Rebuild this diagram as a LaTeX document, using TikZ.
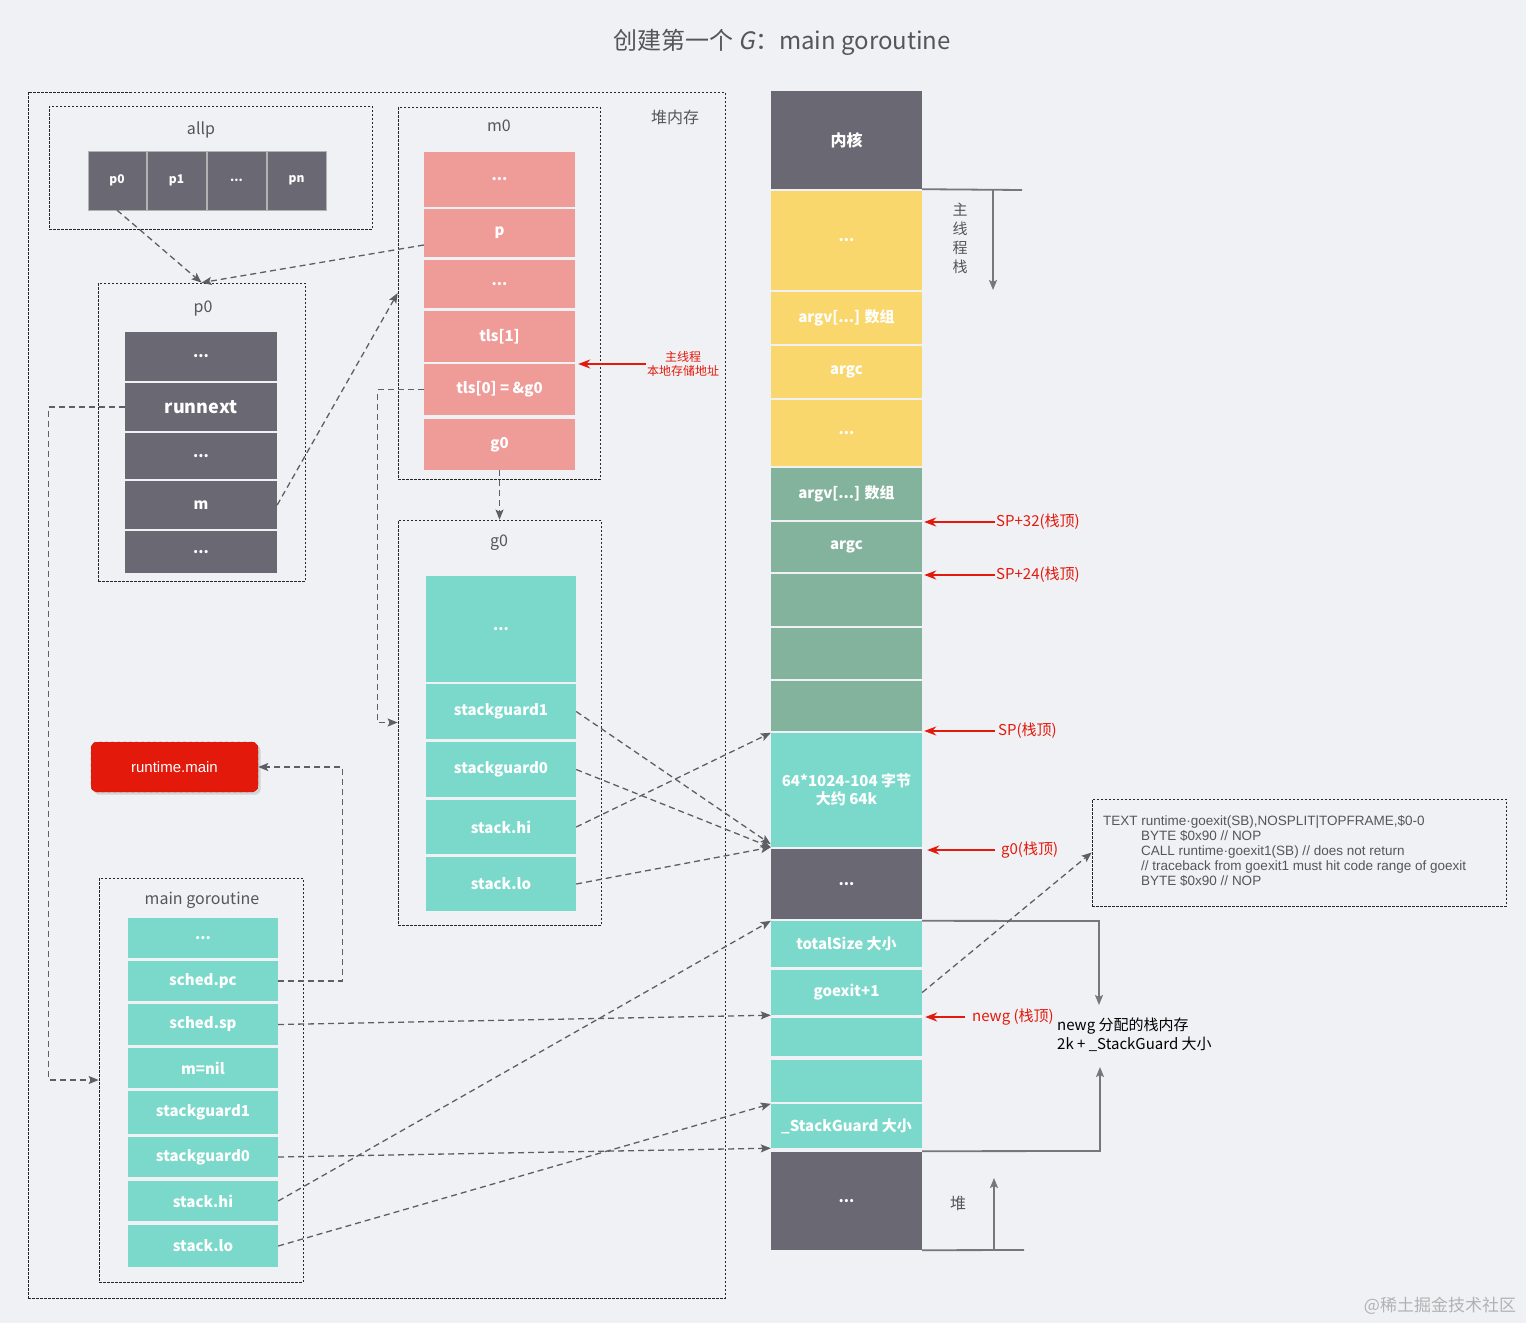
\documentclass[tikz,border=0pt]{standalone}
\usepackage{fontspec}
\setmainfont{Noto Sans CJK SC}
\newfontfamily\arialfont{Liberation Sans}
\newfontfamily\slfont{Noto Sans CJK SC}[FakeSlant=0.2]
\usetikzlibrary{arrows.meta,positioning,shadows}
\definecolor{bgc}{HTML}{F0F1F4}
\definecolor{dkc}{HTML}{6A6873}
\definecolor{pkc}{HTML}{EF9B98}
\definecolor{tlc}{HTML}{7AD9CB}
\definecolor{ylc}{HTML}{F9D76C}
\definecolor{gnc}{HTML}{83B39D}
\definecolor{rdc}{HTML}{E3190C}
\definecolor{lnc}{HTML}{5E5E66}
\definecolor{txc}{HTML}{55555C}

\begin{document}
\begin{tikzpicture}[x=1pt, y=-1pt, >={Stealth[length=10pt,width=8pt,inset=2pt]},
    frame/.style={draw=black!85, dash pattern=on 2.5pt off 1.5pt, line width=0.7pt, inner sep=0pt},
    lbl/.style={text=txc, font=\fontsize{16}{19}\selectfont},
    cell/.style={inner sep=0pt, minimum width=151pt, text=white, align=center, font=\bfseries\fontsize{15}{18}\selectfont},
    dk/.style={cell, fill=dkc}, pk/.style={cell, fill=pkc}, tl/.style={cell, fill=tlc},
    yl/.style={cell, fill=ylc}, gn/.style={cell, fill=gnc},
    link/.style={draw=lnc, line width=1.3pt, dash pattern=on 6pt off 4pt, ->},
    redarr/.style={draw=rdc, line width=1.6pt, -{Stealth[length=12pt,width=9pt]}},
    redlbl/.style={text=rdc, inner sep=1pt, font=\fontsize{15}{18}\selectfont},
    gline/.style={draw=lnc!85, line width=1.8pt}]

\fill[bgc] (0,0) rectangle (1526,1323);

\node[lbl, font=\fontsize{24}{28}\selectfont] (title) at (782,42) {创建第一个 {\slfont G}：main goroutine};

\node[frame, minimum width=697pt, minimum height=1206pt] (heap) at (376.5,695) {};
\node[lbl] (heaplbl) at (675,117) {堆内存};

\node[frame, minimum width=323pt, minimum height=123pt] (allpbox) at (210.5,167.5) {};
\node[lbl] (allplbl) at (201,130) {allp};
\node[dk, draw=gray!60, minimum width=58pt, minimum height=59pt, font=\bfseries\fontsize{12}{14}\selectfont] (ap0) at (117,180.5) {p0};
\node[dk, draw=gray!60, minimum width=59pt, minimum height=59pt, font=\bfseries\fontsize{12}{14}\selectfont] (ap1) at (176.5,180.5) {p1};
\node[dk, draw=gray!60, minimum width=59pt, minimum height=59pt, font=\bfseries\fontsize{12}{14}\selectfont] (apx) at (236.5,180.5) {...};
\node[dk, draw=gray!60, minimum width=59pt, minimum height=59pt, font=\bfseries\fontsize{12}{14}\selectfont] (apn) at (296.5,180.5) {pn};

\node[frame, minimum width=207pt, minimum height=298pt] (p0box) at (201.5,432) {};
\node[lbl] (p0lbl) at (203,309) {p0};
\node[dk, minimum width=152pt, minimum height=49pt] (pd1) at (201,356.5) {...};
\node[dk, minimum width=152pt, minimum height=48pt, font=\bfseries\fontsize{18}{21}\selectfont] (prn) at (201,407) {runnext};
\node[dk, minimum width=152pt, minimum height=46pt] (pd2) at (201,456) {...};
\node[dk, minimum width=152pt, minimum height=48pt] (pm) at (201,505) {m};
\node[dk, minimum width=152pt, minimum height=42pt] (pd3) at (201,552) {...};

\node[frame, minimum width=202pt, minimum height=372pt] (m0box) at (499,293) {};
\node[lbl] (m0lbl) at (499,126) {m0};
\node[pk, minimum height=55pt] (md1) at (499.5,179.5) {...};
\node[pk, minimum height=48pt] (mp) at (499.5,233) {p};
\node[pk, minimum height=48pt] (md2) at (499.5,284) {...};
\node[pk, minimum height=51pt] (mt1) at (499.5,336.5) {tls[1]};
\node[pk, minimum height=51pt] (mt0) at (499.5,389.5) {tls[0] = \&g0};
\node[pk, minimum height=51pt] (mg0) at (499.5,444.5) {g0};

\node[frame, minimum width=203pt, minimum height=405pt] (g0box) at (499.5,722.5) {};
\node[lbl] (g0lbl) at (499,543) {g0};
\node[tl, minimum width=150pt, minimum height=106pt] (gd1) at (501,629) {...};
\node[tl, minimum width=150pt, minimum height=55pt] (gsg1) at (501,711.5) {stackguard1};
\node[tl, minimum width=150pt, minimum height=55pt] (gsg0) at (501,769.5) {stackguard0};
\node[tl, minimum width=150pt, minimum height=54pt] (ghi) at (501,827) {stack.hi};
\node[tl, minimum width=150pt, minimum height=54pt] (glo) at (501,884) {stack.lo};

\node[fill=rdc, draw=rdc!75!black, dashed, rounded corners=6pt, minimum width=167pt, minimum height=50pt,
      text=white, font=\arialfont\fontsize{15}{18}\selectfont, drop shadow={opacity=0.25}] (rtmain) at (174.5,767) {runtime.main};

\node[frame, minimum width=204pt, minimum height=404pt] (mainbox) at (201,1080) {};
\node[lbl] (mainlbl) at (202,900) {main goroutine};
\node[tl, minimum width=150pt, minimum height=40pt] (md) at (203,938) {...};
\node[tl, minimum width=150pt, minimum height=40pt] (mpc) at (203,981) {sched.pc};
\node[tl, minimum width=150pt, minimum height=41pt] (msp) at (203,1024.5) {sched.sp};
\node[tl, minimum width=150pt, minimum height=40pt] (mnil) at (203,1068) {m=nil};
\node[tl, minimum width=150pt, minimum height=43pt] (msg1) at (203,1112.5) {stackguard1};
\node[tl, minimum width=150pt, minimum height=40pt] (msg0) at (203,1157) {stackguard0};
\node[tl, minimum width=150pt, minimum height=40pt] (mhi) at (203,1201) {stack.hi};
\node[tl, minimum width=150pt, minimum height=42pt] (mlo) at (203,1246) {stack.lo};

\node[dk, minimum height=98pt, font=\bfseries\fontsize{16}{19}\selectfont] (kern) at (846.5,140) {内核};
\node[yl, minimum height=99pt] (y1) at (846.5,240.5) {...};
\node[yl, minimum height=52pt] (y2) at (846.5,318) {argv[...] 数组};
\node[yl, minimum height=52pt] (y3) at (846.5,372) {argc};
\node[yl, minimum height=66pt] (y4) at (846.5,433) {...};
\node[gn, minimum height=52pt] (n1) at (846.5,494) {argv[...] 数组};
\node[gn, minimum height=50pt] (n2) at (846.5,547) {argc};
\node[gn, minimum height=52pt] (n3) at (846.5,600) {};
\node[gn, minimum height=51pt] (n4) at (846.5,653.5) {};
\node[gn, minimum height=50pt] (n5) at (846.5,706) {};
\node[tl, minimum height=114pt] (t64) at (846.5,790) {64*1024-104 字节\\大约 64k};
\node[dk, minimum height=70pt] (d2) at (846.5,884) {...};
\node[tl, minimum height=46pt] (ts) at (846.5,944) {totalSize 大小};
\node[tl, minimum height=45pt] (gx) at (846.5,992.5) {goexit+1};
\node[tl, minimum height=38pt] (b1) at (846.5,1037) {};
\node[tl, minimum height=42pt] (b2) at (846.5,1081) {};
\node[tl, minimum height=44pt] (sgd) at (846.5,1126) {\_StackGuard 大小};
\node[dk, minimum height=98pt] (d3) at (846.5,1201) {...};

\coordinate (stk) at (993,190);
\draw[gline] (kern.south east) -- (1022,190);
\draw[gline, ->] (stk) -- (993,290);
\node[lbl, align=center, font=\fontsize{15}{19}\selectfont] (stklbl) at (960,238) {主\\线\\程\\栈};

\coordinate (hp) at (994,1250);
\draw[gline] (d3.south east) -- (1024,1250);
\draw[gline, ->] (hp) -- (994,1178);
\node[lbl] (hplbl) at (958,1203) {堆};

\draw[gline, ->] (ts.north east) -- (1099,921) -- (1099,1005);
\draw[gline, ->] (sgd.south east) ++(0,3) -- (1100,1151) -- (1100,1067);
\node[anchor=north west, align=left, inner sep=0pt, font=\fontsize{15}{19}\selectfont] (newg) at (1057,1018) {newg 分配的栈内存\\2k + \_StackGuard 大小};

\node[frame, minimum width=414pt, minimum height=107pt] (note) at (1299,852.5) {};
\node[anchor=north west, align=left, inner sep=0pt, text=txc, font=\arialfont\fontsize{13.5}{15}\selectfont] (notetxt) at (1103,815)
  {TEXT runtime·goexit(SB),NOSPLIT|TOPFRAME,\$0-0\\
   \hspace*{38pt}BYTE \$0x90 // NOP\\
   \hspace*{38pt}CALL runtime·goexit1(SB) // does not return\\
   \hspace*{38pt}// traceback from goexit1 must hit code range of goexit\\
   \hspace*{38pt}BYTE \$0x90 // NOP};

\node[redlbl, align=center, font=\fontsize{12}{14}\selectfont] (tlslbl) at (683,364) {主线程\\本地存储地址};
\draw[redarr] (tlslbl.west) -- ([xshift=3pt]tlslbl.west -| mt1.east);
\node[redlbl, anchor=west] (sp32) at (995,522) {SP+32(栈顶)};
\draw[redarr] (sp32.west) -- ([xshift=2pt]sp32.west -| kern.east);
\node[redlbl, anchor=west] (sp24) at (995,575) {SP+24(栈顶)};
\draw[redarr] (sp24.west) -- ([xshift=2pt]sp24.west -| kern.east);
\node[redlbl, anchor=west] (sp0) at (997,731) {SP(栈顶)};
\draw[redarr] ([xshift=-2pt]sp0.west) -- ([xshift=2pt]sp0.west -| kern.east);
\node[redlbl, anchor=west] (g0top) at (1000,850) {g0(栈顶)};
\draw[redarr] ([xshift=-5pt]g0top.west) -- ([xshift=5pt]g0top.west -| kern.east);
\node[redlbl, anchor=west] (newgtop) at (971,1017) {newg (栈顶)};
\draw[redarr] ([xshift=-6pt]newgtop.west) -- ([xshift=3pt]newgtop.west -| kern.east);

\path (ap0.south) edge[link] (p0box.north)
      ([yshift=-12pt]mp.west) edge[link] (p0box.north)
      (pm.east) edge[link] (m0box.west)
      (mg0.south) edge[link] (g0box.north)
      (gsg1.east) edge[link] ([yshift=3pt]t64.south west)
      (gsg0.east) edge[link] (t64.south west)
      (ghi.east) edge[link] (t64.north west)
      (glo.east) edge[link] (t64.south west)
      (msp.east) edge[link] (gx.south west)
      (msg0.east) edge[link] (sgd.south west)
      (mhi.east) edge[link] (ts.north west)
      (mlo.east) edge[link] (sgd.north west)
      (gx.east) edge[link] (note.west);
\draw[link] (mt0.west) -- ++(-46,0) |- (g0box.west);
\draw[link] (prn.west) -- ++(-76,0) |- (mainbox.west);
\draw[link] (mpc.east) -- ++(64,0) |- (rtmain.east);

\node[text=black!30, font=\fontsize{17}{20}\selectfont] (wm) at (1440,1306) {@稀土掘金技术社区};
\end{tikzpicture}
\end{document}
